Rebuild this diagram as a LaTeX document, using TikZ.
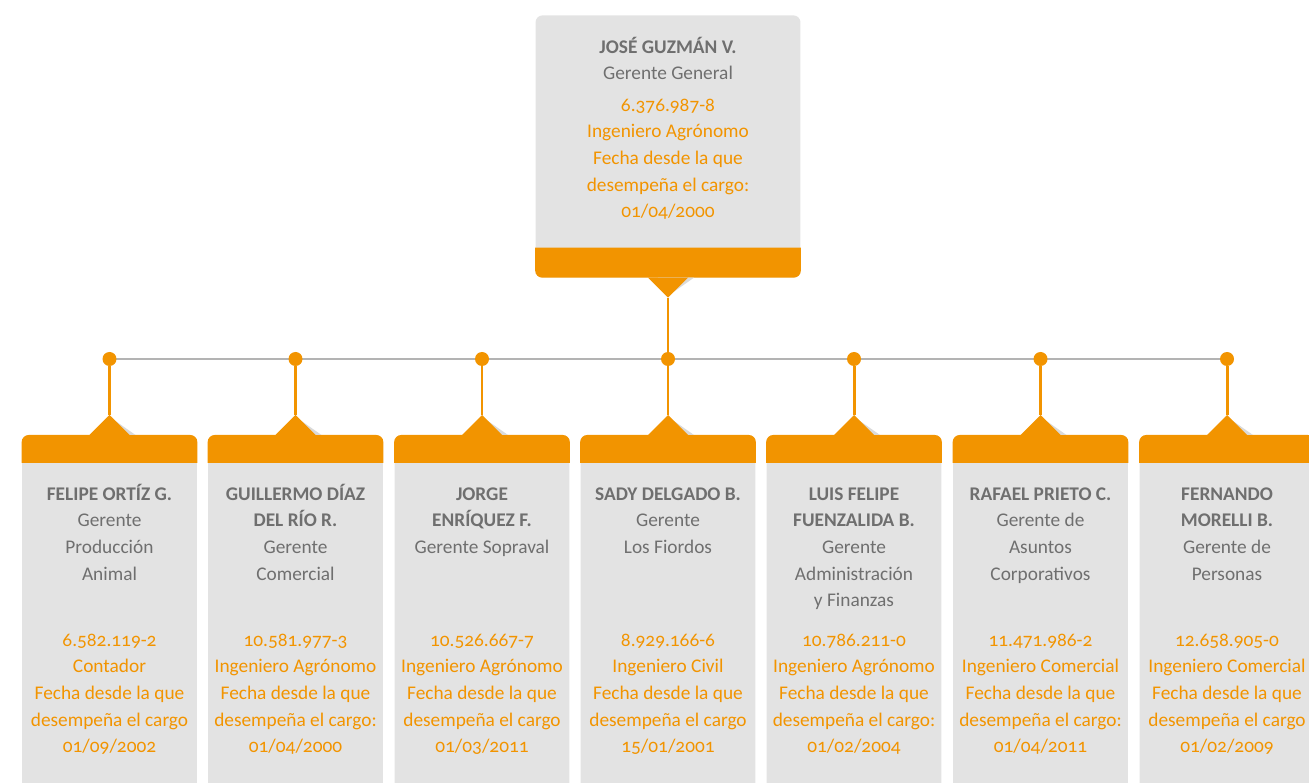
\documentclass[tikz,border=0pt]{standalone}
\usepackage{fontspec}
\setmainfont{Carlito}[Numbers=OldStyle]
\usepackage{xcolor}
\usepackage{tikz}
\usetikzlibrary{calc,positioning}

\definecolor{naranja}{HTML}{F29400}
\definecolor{fondo}{HTML}{E3E3E3}
\definecolor{texto}{HTML}{6F6F6F}
\definecolor{linea}{HTML}{B3B3B3}
\definecolor{sombra}{HTML}{DADADA}

\tikzset{
	card/.style={fill=fondo,rounded corners=4pt,anchor=north,inner sep=0pt,minimum width=3.5cm,minimum height=8cm},
	bosscard/.style={card,minimum width=5.3cm,minimum height=5.24cm},
	dot/.style={circle,fill=naranja,inner sep=0pt,minimum size=0.28cm},
	link/.style={naranja,line width=1.7pt},
	rama/.style={linea,line width=1.1pt},
	nombre/.style={text=texto,align=center,font=\fontsize{11}{15.2}\selectfont,anchor=north,inner sep=0pt},
	datos/.style={nombre,text=naranja},
}

\begin{document}
\begin{tikzpicture}[x=0.02cm,y=-0.02cm]
	\useasboundingbox (0,0) rectangle (1309,783);
	\clip (0,0) rectangle (1309,783);
	% gerente general
	\node[bosscard] (boss) at (668,15) {};
	\fill[naranja] ($(boss.south west)+(0,-30)$) {[rounded corners=4pt] -- (boss.south west) -- (boss.south east)} -- ($(boss.south east)+(0,-30)$) -- cycle;
	\coordinate (bossptr) at ($(boss.south)+(0,20)$);
	\fill[sombra] ($(boss.south)+(-10,0)$) -- ($(bossptr)+(6,-6)$) -- ($(boss.south)+(26,0)$) -- cycle;
	\fill[naranja] ($(boss.south)+(-20,0)$) -- (bossptr) -- ($(boss.south)+(20,0)$) -- cycle;
	\node[nombre] (bossname) at ($(boss.north)+(0,19)$) {\strut\textbf{JOSÉ GUZMÁN V.}\\Gerente General};
	\node[datos] (bossdata) at ($(boss.north)+(0,77)$) {\strut 6.376.987-8\\Ingeniero Agrónomo\\Fecha desde la que\\desempeña el cargo:\\01/04/2000};
	% linea de ramas
	\foreach \x [count=\i] in {109.5,295.5,482,668,854,1040.5,1227}
		\coordinate (h\i) at (\x,359);
	\draw[rama] (h1) -- (h7);
	% gerentes de area
	\foreach \x/\nom/\dat [count=\i] in {
		109.5/{\textbf{FELIPE ORTÍZ G.}\\Gerente\\Producción\\Animal}/{6.582.119-2\\Contador\\Fecha desde la que\\desempeña el cargo\\01/09/2002},
		295.5/{\textbf{GUILLERMO DÍAZ}\\\textbf{DEL RÍO R.}\\Gerente\\Comercial}/{10.581.977-3\\Ingeniero Agrónomo\\Fecha desde la que\\desempeña el cargo:\\01/04/2000},
		482/{\textbf{JORGE}\\\textbf{ENRÍQUEZ F.}\\Gerente Sopraval}/{10.526.667-7\\Ingeniero Agrónomo\\Fecha desde la que\\desempeña el cargo\\01/03/2011},
		668/{\textbf{SADY DELGADO B.}\\Gerente\\Los Fiordos}/{8.929.166-6\\Ingeniero Civil\\Fecha desde la que\\desempeña el cargo\\15/01/2001},
		854/{\textbf{LUIS FELIPE}\\\textbf{FUENZALIDA B.}\\Gerente\\Administración\\y Finanzas}/{10.786.211-0\\Ingeniero Agrónomo\\Fecha desde la que\\desempeña el cargo:\\01/02/2004},
		1040.5/{\textbf{RAFAEL PRIETO C.}\\Gerente de\\Asuntos\\Corporativos}/{11.471.986-2\\Ingeniero Comercial\\Fecha desde la que\\desempeña el cargo:\\01/04/2011},
		1227/{\textbf{FERNANDO}\\\textbf{MORELLI B.}\\Gerente de\\Personas}/{12.658.905-0\\Ingeniero Comercial\\Fecha desde la que\\desempeña el cargo\\01/02/2009}} {
		\node[card] (c\i) at (\x,435) {};
		\fill[naranja] ($(c\i.north west)+(0,28)$) {[rounded corners=4pt] -- (c\i.north west) -- (c\i.north east)} -- ($(c\i.north east)+(0,28)$) -- cycle;
		\coordinate (t\i) at ($(c\i.north)+(0,-20)$);
		\fill[sombra] ($(c\i.north)+(-10,0)$) -- ($(t\i)+(6,6)$) -- ($(c\i.north)+(26,0)$) -- cycle;
		\fill[naranja] ($(c\i.north)+(-20,0)$) -- (t\i) -- ($(c\i.north)+(20,0)$) -- cycle;
		\node[dot] (d\i) at (h\i) {};
		\draw[link] (d\i) -- (t\i);
		\node[nombre] (n\i) at ($(c\i.north)+(0,46)$) {\strut\nom};
		\node[datos] (p\i) at ($(c\i.north)+(0,192)$) {\strut\dat};
	}
	\draw[link] (bossptr) -- (d4);
\end{tikzpicture}
\end{document}
